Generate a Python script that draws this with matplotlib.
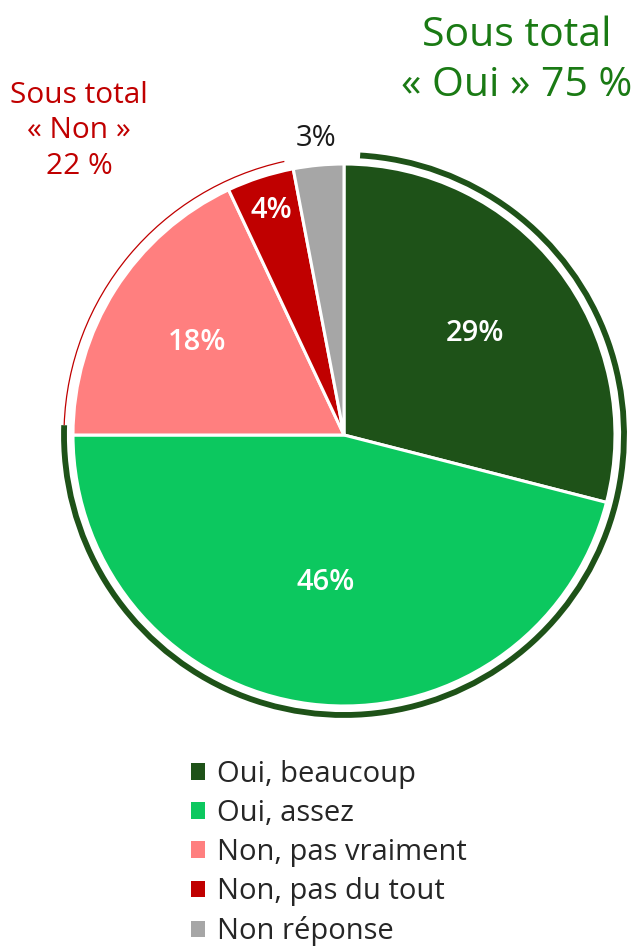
import numpy as np
import matplotlib
matplotlib.use("Agg")
import matplotlib.pyplot as plt
from matplotlib.patches import Arc

plt.rcParams['font.family'] = ['Open Sans', 'DejaVu Sans']

labels = ["Oui, beaucoup", "Oui, assez", "Non, pas vraiment", "Non, pas du tout", "Non réponse"]
values = [29, 46, 18, 4, 3]
colors = ["#1e5218", "#0cc85f", "#ff7f7f", "#c00000", "#a6a6a6"]
pct_text = ["29%", "46%", "18%", "4%", "3%"]
pct_color = ["white", "white", "white", "white", "#1a1a1a"]
pct_weight = ["semibold", "semibold", "semibold", "semibold", "normal"]
pct_dist = [0.61, 0.55, 0.64, 0.87, 1.10]

sub_oui = "Sous total\n« Oui » 75 %"
sub_non = "Sous total\n« Non »\n22 %"

W, H = 639, 948
fig = plt.figure(figsize=(W / 100, H / 100), dpi=100)
ax = fig.add_axes([0, 0, 1, 1])

cx, cy, r = 344, H - 435, 271
wedges, _ = ax.pie(values, colors=colors, startangle=90, counterclock=False,
                   center=(cx, cy), radius=r, frame=True,
                   wedgeprops=dict(edgecolor='white', linewidth=2.2))
ax.set_xlim(0, W)
ax.set_ylim(0, H)
ax.set_aspect('equal')
ax.axis('off')

for w, t, c, fw, d in zip(wedges, pct_text, pct_color, pct_weight, pct_dist):
    a = np.deg2rad((w.theta1 + w.theta2) / 2)
    ax.text(cx + d * r * np.cos(a), cy + d * r * np.sin(a), t, color=c,
            fontsize=21, ha='center', va='center', fontweight=fw)

# subtotal arcs
oui_end = wedges[1].theta1
oui_start = wedges[0].theta2
ax.add_patch(Arc((cx, cy), 2 * 280, 2 * 280, theta1=oui_end - 2, theta2=oui_start - 3.3,
                 color="#1e5218", linewidth=4.2))
non_start = wedges[3].theta1
non_end = wedges[2].theta2
ax.add_patch(Arc((cx, cy), 2 * 280, 2 * 280, theta1=non_start + 1.5, theta2=non_end - 2,
                 color="#c00000", linewidth=0.9))

fig.text(517 / W, 1 - 61 / H, sub_oui, color="#1a7a14", fontsize=29.5,
         ha='center', va='center', linespacing=1.3)
fig.text(79 / W, 1 - 131 / H, sub_non, color="#c00000", fontsize=21.5,
         ha='center', va='center', linespacing=1.3)

leg = ax.legend(wedges, labels, loc='upper left', bbox_to_anchor=(176 / W, 1 - 745 / H),
                bbox_transform=fig.transFigure, frameon=False, fontsize=21,
                handlelength=0.5, handleheight=0.5, handletextpad=0.4,
                labelspacing=0.35, borderpad=0, labelcolor="#262626")
for h in leg.legend_handles:
    h.set_edgecolor('none')

fig.savefig("out.png", dpi=100)
